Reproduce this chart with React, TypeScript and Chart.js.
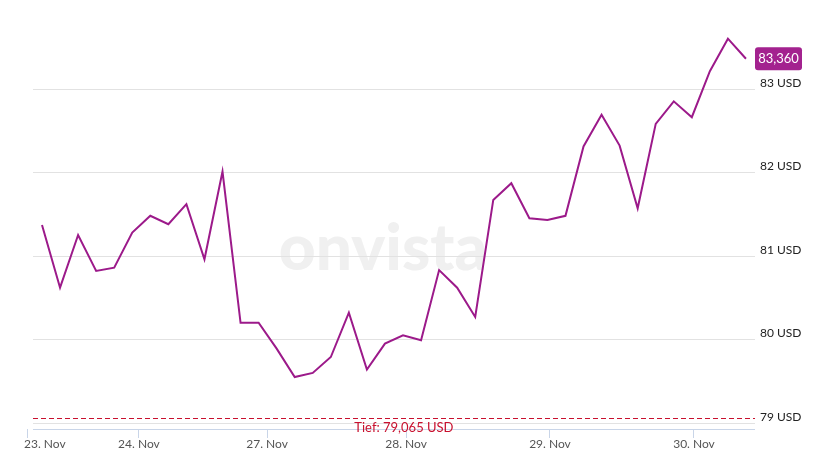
import { useEffect, useRef } from 'react';
import { Chart, registerables } from 'chart.js';

Chart.register(...registerables);

// Price series (USD), roughly evenly spaced trading samples
const PRICES: number[] = [
  81.37, 80.62, 81.25, 80.82, 80.86, 81.28, 81.48, 81.38, 81.62, 80.96,
  82.01, 80.2, 80.2, 79.89, 79.55, 79.6, 79.79, 80.32, 79.64, 79.95,
  80.05, 79.99, 80.83, 80.62, 80.27, 81.67, 81.87, 81.45, 81.43, 81.48,
  82.31, 82.69, 82.32, 81.57, 82.58, 82.85, 82.66, 83.21, 83.6, 83.36,
];

// Date tick labels and their positions along the sample index axis
const X_TICK_LABELS: string[] = ['23. Nov', '24. Nov', '27. Nov', '28. Nov', '29. Nov', '30. Nov'];
const X_TICK_POS: number[] = [-0.83, 5.37, 12.47, 20.17, 28.14, 36.12];

// Price axis ticks
const Y_TICKS: number[] = [79, 80, 81, 82, 83];

// Low marker
const LOW_VALUE = 79.065;
const LOW_LABEL = 'Tief: 79,065 USD';
const LOW_LABEL_AT = 20.05;

const FONT = 'Lato, "Open Sans", sans-serif';
const LINE_COLOR = '#9c1a8a';
const BOX_COLOR = '#a3228f';
const RED = '#c8102e';

export default function App() {
  const ref = useRef<HTMLCanvasElement | null>(null);

  useEffect(() => {
    if (!ref.current) return;
    const px = (v: number) => Math.round(v) + 0.5;

    const decor = {
      id: 'decor',
      beforeDraw(chart: any) {
        const { ctx, chartArea } = chart;
        ctx.save();
        ctx.font = `900 64px ${FONT}`;
        ctx.fillStyle = '#f0f0f0';
        ctx.textAlign = 'center';
        ctx.textBaseline = 'alphabetic';
        ctx.fillText('onvista', chartArea.left + 356, chartArea.top + 258);
        ctx.restore();
      },
      beforeDatasetsDraw(chart: any) {
        const { ctx, chartArea, scales } = chart;
        const xs = scales.x;
        const ys = scales.y;
        const x0 = Math.round(xs.getPixelForValue(-0.5));
        const x1 = Math.round(chartArea.right);
        ctx.save();
        ctx.lineWidth = 1;
        ctx.strokeStyle = '#e2e2e2';
        for (const v of Y_TICKS) {
          const y = px(ys.getPixelForValue(v));
          ctx.beginPath();
          ctx.moveTo(x0, y);
          ctx.lineTo(x1, y);
          ctx.stroke();
        }
        // axis line
        ctx.strokeStyle = '#c9d5e8';
        const yb = px(chartArea.bottom);
        ctx.beginPath();
        ctx.moveTo(x0, yb);
        ctx.lineTo(x1, yb);
        ctx.stroke();
        // low dashed line
        ctx.strokeStyle = RED;
        ctx.setLineDash([5, 3]);
        const yl = px(ys.getPixelForValue(LOW_VALUE));
        ctx.beginPath();
        ctx.moveTo(x0, yl);
        ctx.lineTo(x1, yl);
        ctx.stroke();
        ctx.restore();
      },
      afterDatasetsDraw(chart: any) {
        const { ctx, chartArea, scales } = chart;
        const xs = scales.x;
        const ys = scales.y;
        ctx.save();
        // low label
        ctx.font = `13px ${FONT}`;
        ctx.fillStyle = RED;
        ctx.textAlign = 'center';
        ctx.textBaseline = 'alphabetic';
        ctx.fillText(LOW_LABEL, xs.getPixelForValue(LOW_LABEL_AT), chartArea.bottom + 2.5);
        // last value box
        const last = PRICES[PRICES.length - 1];
        const yv = ys.getPixelForValue(last);
        const bx = chartArea.right;
        const bw = 47;
        const bh = 23;
        ctx.fillStyle = BOX_COLOR;
        ctx.beginPath();
        (ctx as any).roundRect(bx, yv - bh / 2, bw, bh, 3);
        ctx.fill();
        ctx.fillStyle = '#ffffff';
        ctx.font = `13px ${FONT}`;
        ctx.textAlign = 'center';
        ctx.textBaseline = 'middle';
        ctx.fillText(
          last.toLocaleString('de-DE', { minimumFractionDigits: 3, maximumFractionDigits: 3 }),
          bx + bw / 2,
          yv + 0.5
        );
        ctx.restore();
      },
      afterDraw(chart: any) {
        const { ctx, chartArea, scales } = chart;
        const xs = scales.x;
        ctx.save();
        ctx.font = `12px ${FONT}`;
        ctx.fillStyle = '#555555';
        ctx.textAlign = 'center';
        ctx.textBaseline = 'middle';
        X_TICK_LABELS.forEach((lab, i) => {
          const p = xs.getPixelForValue(X_TICK_POS[i]);
          const w = ctx.measureText(lab).width;
          const cx = Math.max(p, chartArea.left - 3 + w / 2);
          ctx.fillText(lab, cx, chartArea.bottom + 15);
        });
        ctx.restore();
      },
    };

    const chart = new Chart(ref.current, {
      type: 'line',
      data: {
        datasets: [
          {
            data: PRICES.map((v, i) => ({ x: i, y: v })),
            borderColor: LINE_COLOR,
            borderWidth: 2,
            pointRadius: 0,
            tension: 0,
            fill: false,
          },
        ],
      },
      options: {
        responsive: false,
        animation: false,
        layout: { padding: { left: 27, top: 10, right: 0, bottom: 0 } },
        plugins: { legend: { display: false }, tooltip: { enabled: false } },
        scales: {
          x: {
            type: 'linear',
            min: -0.831,
            max: 39.5,
            afterBuildTicks: (s: any) => {
              s.ticks = X_TICK_POS.map((v) => ({ value: v }));
            },
            afterFit: (s: any) => {
              s.height = 29;
            },
            ticks: {
              autoSkip: false,
              maxRotation: 0,
              color: 'rgba(0,0,0,0)',
              padding: 0,
              font: { family: FONT, size: 12 },
              callback: (_v: any, i: number) => X_TICK_LABELS[i],
            },
            grid: { drawOnChartArea: false, drawTicks: true, tickLength: 9, color: '#c9d5e8' },
            border: { display: false },
          },
          y: {
            position: 'right',
            min: 79 - 6 / 84,
            max: 83 + 77 / 84,
            afterBuildTicks: (s: any) => {
              s.ticks = Y_TICKS.map((v) => ({ value: v }));
            },
            afterFit: (s: any) => {
              s.width = 72;
            },
            ticks: {
              color: '#222222',
              padding: 5,
              labelOffset: -6,
              font: { family: FONT, size: 12 },
              callback: (v: any) => `${v} USD`,
            },
            grid: { display: false, drawTicks: false },
            border: { display: false },
          },
        },
      },
      plugins: [decor],
    } as any);

    return () => chart.destroy();
  }, []);

  return (
    <div style={{ position: 'fixed', left: 0, top: 0, width: 827, height: 458, background: '#fff' }}>
      <canvas ref={ref} width={827} height={458} style={{ display: 'block' }} />
    </div>
  );
}
